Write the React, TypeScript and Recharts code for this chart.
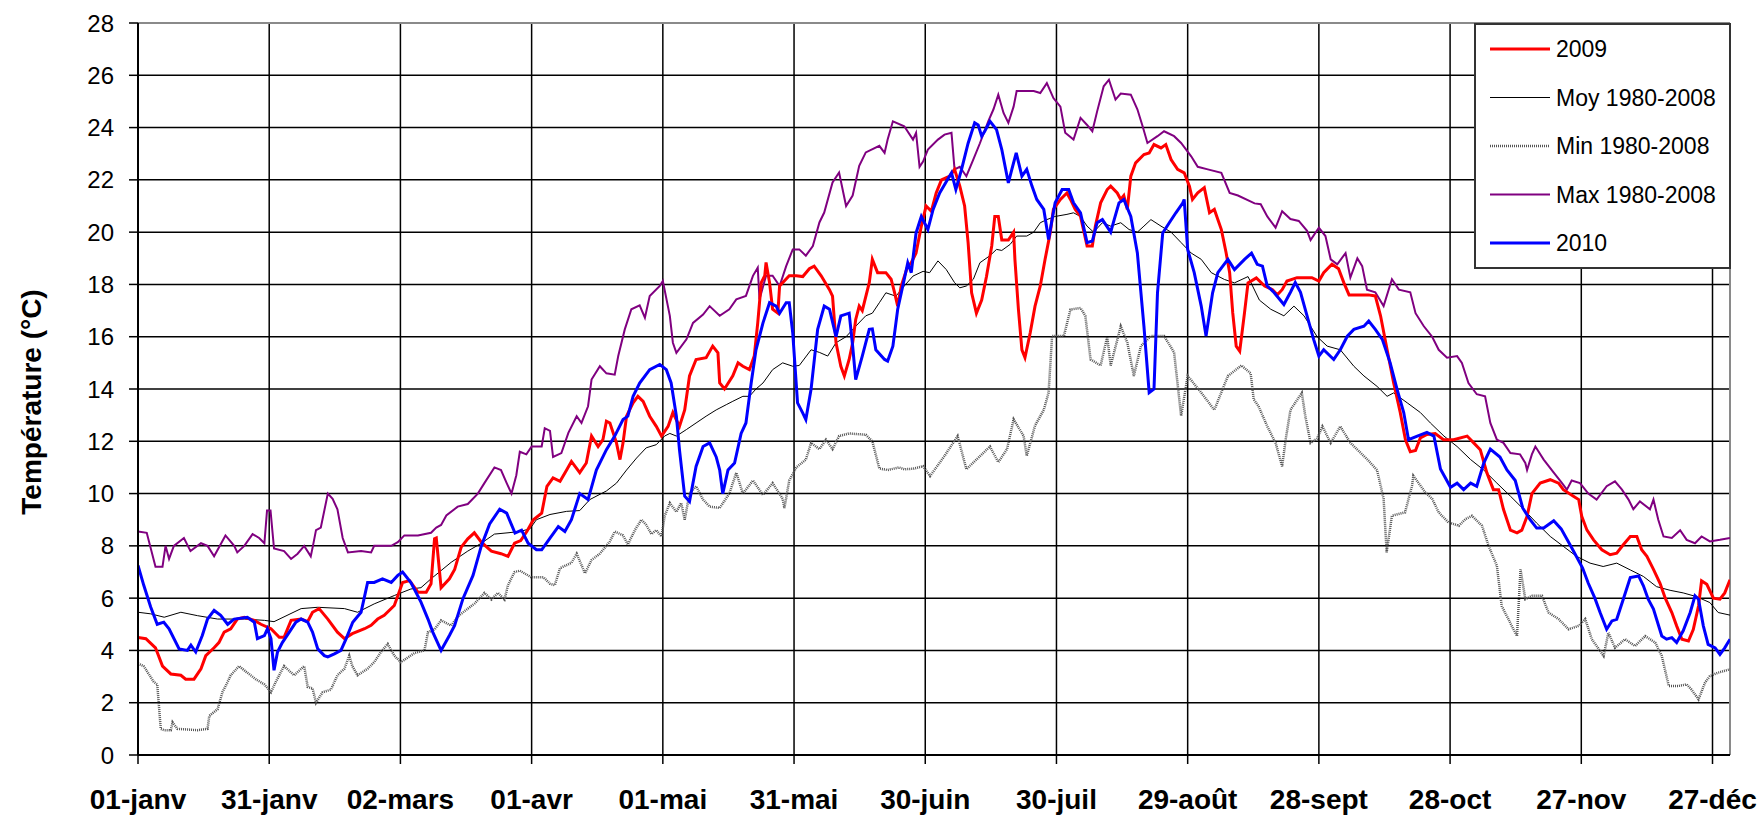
import React from "react";
import { LineChart, Line, XAxis, YAxis, CartesianGrid, ReferenceLine } from "recharts";

const FONT = "'Liberation Sans', Arial, Helvetica, sans-serif";

// day of year (0 = 01-janv) for the axis ticks, and their labels
const dayTicks = [0, 30, 60, 90, 120, 150, 180, 210, 240, 270, 300, 330, 360];
const dayLabels = [
  "01-janv", "31-janv", "02-mars", "01-avr", "01-mai", "31-mai", "30-juin",
  "30-juil", "29-août", "28-sept", "28-oct", "27-nov", "27-déc",
];
const tempTicks = [0, 2, 4, 6, 8, 10, 12, 14, 16, 18, 20, 22, 24, 26, 28];

// [day, °C]
const max19802008 = [
  [0, 8.55], [2, 8.5], [4, 7.2], [5.6, 7.2], [6.3, 8.0], [7.1, 7.5], [8.2, 8.0], [10.5, 8.3], [12, 7.8],
  [14.4, 8.1], [15.9, 8.0], [17.4, 7.6], [20, 8.4], [22, 8.0], [22.7, 7.75], [24.3, 8.0], [26.2, 8.45],
  [27.7, 8.3], [28.9, 8.1], [29.5, 9.35], [30.3, 9.35], [31.1, 7.9], [33.4, 7.8], [35, 7.5], [36.5, 7.7],
  [38, 8.0], [39.5, 7.6], [40, 8.0], [40.7, 8.6], [41.8, 8.7], [43.4, 10.0], [44.5, 9.8], [45.6, 9.4],
  [46.8, 8.3], [48, 7.75], [51, 7.8], [53.3, 7.75], [54, 8.0], [57.9, 8.0], [59.4, 8.14], [60.9, 8.4],
  [64, 8.4], [67, 8.5], [68.2, 8.7], [69.3, 8.8], [70.5, 9.16], [73.1, 9.5], [75.4, 9.6], [77.7, 10.0],
  [79.2, 10.4], [81.5, 11.0], [83, 10.9], [84.3, 10.4], [85.4, 10.0], [86.5, 10.7], [87.3, 11.6],
  [88.8, 11.5], [90, 11.8], [92.3, 11.8], [93, 12.5], [94.2, 12.4], [94.9, 11.4], [96.8, 11.55],
  [98.4, 12.32], [100.3, 12.96], [101.4, 12.7], [102.9, 13.34], [103.7, 14.36], [105.6, 14.87],
  [107.1, 14.6], [109, 14.55], [109.8, 15.26], [111.3, 16.28], [112.8, 17.05], [114.7, 17.2],
  [115.9, 16.73], [117, 17.56], [119.3, 17.94], [120, 18.13], [121.6, 16.8], [122.3, 15.77],
  [123.1, 15.38], [125.4, 15.9], [126.9, 16.53], [129.2, 16.85], [130.7, 17.17], [133, 16.8],
  [135.2, 17.05], [136.8, 17.43], [139, 17.56], [140.6, 18.33], [141.7, 18.64], [142.1, 17.43],
  [143.6, 18.33], [145.1, 18.33], [146.7, 17.94], [148.2, 18.7], [149.7, 19.34], [151.2, 19.34],
  [152.7, 19.1], [154.3, 19.47], [155.8, 20.37], [156.9, 20.75], [158.8, 21.9], [160.3, 22.28],
  [161.9, 21.0], [163.4, 21.4], [164.9, 22.54], [166.4, 23.05], [169.5, 23.3], [170.7, 23.03],
  [171.4, 23.54], [172.6, 24.24], [175.2, 24.05], [177.2, 23.54], [177.9, 23.8], [178.7, 22.5],
  [179.5, 22.7], [180.6, 23.16], [182.9, 23.54], [184.4, 23.73], [186, 23.8], [186.7, 22.4],
  [187.9, 22.5], [189.4, 22.14], [191, 22.78], [192.5, 23.4], [194.4, 24.24], [195.6, 24.7],
  [196.7, 25.26], [197.9, 24.56], [199, 24.18], [200.2, 24.8], [200.9, 25.4], [204.8, 25.4],
  [206.3, 25.32], [207.8, 25.7], [209.3, 25.13], [210.9, 24.8], [212, 23.8], [213.9, 23.54],
  [215.5, 24.37], [217, 24.1], [218.2, 23.86], [219.3, 24.62], [220.8, 25.58], [222, 25.83],
  [223.5, 25.07], [224.7, 25.3], [227, 25.26], [228.5, 24.7], [229.7, 24.05], [230.8, 23.41],
  [233.1, 23.67], [234.6, 23.86], [236.9, 23.67], [238.5, 23.41], [240.8, 22.9], [242.3, 22.5],
  [244.6, 22.4], [247.7, 22.27], [249.6, 21.5], [251.5, 21.4], [255.3, 21.1], [256.7, 21.07],
  [258.2, 20.6], [260.1, 20.17], [261.6, 20.8], [263.5, 20.5], [265.4, 20.43], [267.3, 20.05],
  [268.1, 19.7], [270, 20.17], [271.5, 19.85], [272.7, 18.96], [274.2, 18.77], [276.1, 19.2],
  [277.2, 18.26], [278.8, 19.0], [279.9, 18.7], [281, 17.8], [282.9, 17.7], [284.8, 17.17],
  [286.7, 18.2], [288.3, 17.8], [290.9, 17.7], [292.1, 16.9], [294, 16.4], [295.9, 16.0],
  [297.4, 15.5], [299.3, 15.2], [301.6, 15.26], [302.7, 15.0], [304.2, 14.23], [306.1, 13.8],
  [308, 13.72], [309.2, 12.7], [310.7, 12.06], [312.2, 11.94], [313.8, 11.55], [316, 11.5],
  [317.2, 11.17], [317.6, 10.9], [318.7, 11.5], [319.5, 11.8], [321.4, 11.3], [323.7, 10.8],
  [325.6, 10.4], [326.7, 10.15], [327.8, 10.5], [329.7, 10.4], [331.6, 10.0], [333.5, 9.77],
  [335.8, 10.28], [337.7, 10.47], [339.3, 10.15], [340.8, 9.77], [341.9, 9.4], [343.4, 9.7],
  [345.7, 9.4], [346.5, 9.77], [347.6, 9.0], [348.8, 8.36], [350.7, 8.3], [352.6, 8.6], [354.1, 8.23],
  [356, 8.1], [357.5, 8.36], [359.4, 8.17], [361.7, 8.23], [364, 8.3],
];

const min19802008 = [
  [0, 3.5], [1.3, 3.4], [3.6, 2.8], [4.4, 2.7], [5.2, 1.0], [6, 0.95], [7.5, 0.95], [7.9, 1.25], [9, 1.0],
  [13.6, 0.95], [15.9, 1.0], [16.3, 1.5], [18.2, 1.75], [19.3, 2.4], [20.5, 2.8], [21.2, 3.05],
  [23.1, 3.4], [24.6, 3.2], [26.9, 2.9], [28.9, 2.7], [30.4, 2.4], [31.5, 2.8], [33.4, 3.4],
  [35.7, 3.05], [38, 3.4], [38.8, 2.6], [39.9, 2.55], [40.7, 2.0], [42.2, 2.4], [44.1, 2.5],
  [45.6, 3.05], [47.2, 3.3], [48.3, 3.8], [49, 3.4], [50.2, 3.05], [52.5, 3.3], [54, 3.55],
  [55.6, 3.95], [57.1, 4.25], [58.6, 3.8], [60.1, 3.55], [63.2, 3.9], [65.5, 4.0], [66.3, 4.7],
  [67.8, 4.8], [69.3, 5.15], [71.6, 4.95], [73.1, 5.3], [77, 5.8], [79.2, 6.2], [80.8, 5.95],
  [82.3, 6.2], [83.8, 5.95], [84.6, 6.5], [86.1, 7.0], [87.3, 7.05], [89.9, 6.8], [92.7, 6.8],
  [94.2, 6.55], [95.3, 6.5], [96.5, 7.15], [99.1, 7.35], [100.3, 7.7], [102.2, 6.95], [103.7, 7.46],
  [105.6, 7.7], [107.9, 8.17], [109, 8.55], [110.9, 8.4], [112, 8.05], [113.6, 8.6], [115.1, 9.0],
  [116.2, 8.8], [117.4, 8.45], [118.5, 8.6], [119.7, 8.36], [120.4, 9.13], [121.6, 9.64], [123.1, 9.3],
  [124.2, 9.64], [125, 9.0], [126.1, 10.0], [127.6, 10.28], [129.2, 9.77], [130.7, 9.5], [133, 9.45],
  [135.2, 10.0], [136.8, 10.8], [138.3, 10.0], [140.6, 10.5], [142.9, 9.95], [145.1, 10.4],
  [147.4, 9.8], [147.8, 9.45], [148.9, 10.5], [150.5, 11.0], [152.7, 11.3], [153.9, 11.94],
  [155.8, 11.7], [157.3, 12.06], [158.8, 11.7], [160.3, 12.2], [162.6, 12.3], [166.4, 12.25],
  [167.9, 12.0], [169.5, 10.96], [171.4, 10.9], [174, 11.0], [175.2, 10.93], [177.2, 10.95],
  [179.5, 11.05], [181.1, 10.67], [184.4, 11.44], [187.4, 12.2], [189.4, 10.93], [194.8, 11.8],
  [196.7, 11.2], [198.7, 11.7], [200.2, 12.84], [202.5, 12.2], [203.2, 11.44], [205.1, 12.6],
  [207.1, 13.2], [208.2, 13.86], [209, 16.03], [211.7, 16.03], [213.2, 17.04], [215.5, 17.1],
  [216.6, 16.8], [217.8, 15.13], [220.1, 14.9], [221.6, 16.0], [222.4, 14.9], [224.7, 16.4],
  [226.2, 15.77], [227.7, 14.5], [229.3, 15.64], [231.6, 16.03], [234.6, 16.03], [236.9, 15.4],
  [238.5, 12.97], [240, 14.5], [243.1, 13.86], [246.1, 13.2], [249.2, 14.5], [252.3, 14.9],
  [254.4, 14.6], [255.1, 13.6], [256.2, 13.34], [258.2, 12.57], [260.1, 11.94], [261.6, 11.04],
  [262.4, 12.06], [263.5, 13.2], [266.1, 13.85], [266.9, 12.96], [268.1, 11.94], [269.6, 12.1],
  [270.8, 12.57], [272.7, 11.94], [274.9, 12.57], [277.2, 11.94], [278.8, 11.68], [281.1, 11.3],
  [283.3, 10.9], [284.8, 9.8], [285.5, 7.75], [286.7, 9.15], [289.7, 9.28], [291.3, 10.3],
  [291.6, 10.68], [294.3, 10.05], [295.9, 9.8], [297.4, 9.28], [299.6, 8.9], [302, 8.77],
  [303.5, 9.02], [305, 9.15], [307.3, 8.77], [308.8, 8.0], [310.7, 7.24], [311.8, 5.7], [314.1, 4.94],
  [315.3, 4.55], [316.1, 7.1], [317.2, 5.96], [318.8, 6.09], [321, 6.09], [322.5, 5.45], [324.8, 5.2],
  [327.1, 4.81], [329.4, 4.94], [330.9, 5.2], [332.4, 4.43], [335.1, 3.79], [336.2, 4.68],
  [337.7, 4.1], [340, 4.43], [342.3, 4.17], [344.6, 4.55], [346.9, 4.3], [348.4, 3.79], [350, 2.64],
  [352.2, 2.64], [354.1, 2.7], [355.2, 2.5], [356.8, 2.13], [358.3, 2.77], [359.4, 3.02],
  [361.3, 3.15], [364, 3.28],
];

const moy19802008 = [
  [0, 5.46], [2.9, 5.4], [6, 5.27], [9.8, 5.46], [13.6, 5.33], [18.2, 5.2], [24.3, 5.2], [28.9, 5.15],
  [31.1, 5.1], [37.3, 5.6], [41.1, 5.65], [47.2, 5.6], [50.2, 5.46], [54, 5.78], [58.6, 6.1],
  [62.4, 6.35], [64.7, 6.4], [67, 6.74], [71.6, 7.37], [75.4, 7.8], [78.5, 8.1], [81.5, 8.45],
  [84.6, 8.5], [87.3, 8.55], [89.6, 8.65], [91.1, 9.0], [94.2, 9.2], [98, 9.32], [101, 9.35],
  [103.3, 9.77], [107.1, 10.1], [109.4, 10.4], [111.7, 10.9], [114, 11.36], [116.2, 11.75],
  [118.5, 11.87], [120.4, 12.2], [121.6, 12.3], [123.1, 12.2], [125.4, 12.45], [127.6, 12.7],
  [129.9, 12.96], [132.2, 13.2], [134.5, 13.4], [136, 13.53], [138.3, 13.72], [139.8, 13.72],
  [141.3, 14.0], [142.9, 14.23], [145.1, 14.74], [147.4, 15.0], [149.7, 14.87], [151.2, 14.9],
  [153.9, 15.5], [155.8, 15.4], [157.7, 15.26], [159.6, 15.77], [161.9, 16.0], [164.1, 16.4],
  [166.4, 16.8], [167.9, 16.9], [169.5, 17.3], [171, 17.68], [173.3, 17.55], [175.2, 17.94],
  [177.2, 18.32], [179.5, 18.5], [181, 18.45], [182.9, 18.9], [184.8, 18.57], [186.7, 18.07],
  [187.9, 17.87], [189.4, 17.94], [191, 18.2], [192.5, 18.83], [194.8, 19.1], [196.3, 19.34],
  [197.5, 19.3], [199.4, 19.53], [200.9, 19.85], [203.2, 19.85], [204.8, 20.0], [206.3, 20.36],
  [207.8, 20.48], [209.7, 20.6], [212.4, 20.68], [213.9, 20.74], [215.5, 20.6], [217, 20.23],
  [218.5, 20.0], [220.5, 20.36], [222.4, 20.23], [224.7, 20.36], [226.6, 20.1], [228.5, 20.0],
  [230, 20.23], [231.6, 20.48], [233.9, 20.23], [236.2, 20.0], [238.5, 19.6], [240.8, 19.2],
  [243.1, 18.96], [245.4, 18.45], [248.4, 18.19], [250.7, 18.06], [253.8, 18.3], [256.4, 17.4],
  [259, 17.05], [262, 16.8], [264.3, 17.17], [266.6, 16.8], [269.6, 16.0], [271.9, 15.64],
  [274.9, 15.5], [278, 14.87], [280.3, 14.5], [283.3, 14.1], [285.6, 13.72], [287.1, 13.85],
  [290.2, 13.47], [293.2, 13.1], [295.5, 12.7], [298.6, 12.2], [301.6, 11.8], [304.7, 11.3],
  [307.7, 10.9], [310.7, 10.4], [313.8, 9.9], [316.8, 9.4], [319.8, 8.87], [322.9, 8.36],
  [325.9, 7.98], [328.9, 7.6], [332, 7.34], [335, 7.21], [338.1, 7.34], [341.2, 7.08], [344.2, 6.83],
  [347.2, 6.44], [350.3, 6.3], [353.3, 6.2], [356.3, 6.06], [359.4, 5.83], [361.3, 5.45], [364, 5.35],
];

const serie2009 = [
  [0, 4.5], [1.8, 4.45], [4, 4.1], [5.6, 3.4], [7.5, 3.1], [9.8, 3.05], [10.9, 2.9], [12.8, 2.9],
  [14.4, 3.3], [15.5, 3.8], [17.4, 4.1], [18.5, 4.3], [19.7, 4.7], [21.2, 4.83], [22.7, 5.2],
  [24.3, 5.27], [26.6, 5.15], [28.1, 5.0], [30.4, 4.83], [32.3, 4.5], [33.4, 4.5], [35, 5.15],
  [37.3, 5.2], [38.8, 5.1], [39.9, 5.46], [41.4, 5.6], [43.4, 5.2], [45.6, 4.7], [47.2, 4.45],
  [49, 4.64], [51.8, 4.83], [53.3, 4.96], [54.8, 5.2], [56.3, 5.34], [58.6, 5.72], [60.5, 6.6],
  [62.1, 6.67], [64, 6.23], [65.9, 6.23], [67, 6.55], [67.8, 8.27], [68.2, 8.3], [69.3, 6.4],
  [71.2, 6.74], [72.4, 7.1], [73.9, 7.95], [75.4, 8.27], [76.9, 8.5], [78.5, 8.14], [80.8, 7.8],
  [83, 7.7], [84.6, 7.6], [86.1, 8.1], [87.5, 8.2], [88.9, 8.55], [90.4, 9.0], [92.3, 9.25],
  [93.5, 10.28], [94.9, 10.6], [96.5, 10.47], [98, 10.9], [99.1, 11.23], [101, 10.8], [102.5, 11.17],
  [103.7, 12.2], [105.2, 11.8], [106.3, 12.06], [107.1, 12.77], [107.9, 12.7], [109.4, 11.94],
  [110.2, 11.3], [110.9, 11.94], [111.7, 12.96], [113.2, 13.47], [114.3, 13.72], [115.5, 13.53],
  [117, 12.96], [118.5, 12.57], [119.7, 12.2], [121.2, 12.57], [122.3, 13.1], [123.8, 12.57],
  [125, 13.2], [126.1, 14.5], [127.6, 15.13], [129.9, 15.2], [131.4, 15.64], [132.6, 15.38],
  [133, 14.23], [134.1, 14.0], [136, 14.5], [137.2, 15.0], [138.3, 14.87], [139.8, 14.74],
  [140.9, 15.26], [141.7, 16.53], [142.5, 18.07], [143.3, 18.33], [143.6, 18.84], [144.4, 18.07],
  [145.1, 17.05], [146.3, 16.9], [146.7, 17.94], [148.9, 18.33], [150.5, 18.33], [152, 18.3],
  [153.5, 18.6], [154.6, 18.7], [156.2, 18.33], [158.1, 17.8], [158.8, 17.55], [159.6, 15.77],
  [160.7, 14.87], [161.5, 14.5], [162.6, 15.13], [163.4, 15.77], [164.1, 16.66], [164.9, 17.17],
  [165.6, 17.0], [167.2, 18.07], [167.9, 18.96], [169.1, 18.45], [171, 18.45], [172.2, 18.2],
  [173, 17.68], [173.7, 17.17], [174.5, 17.94], [176, 18.7], [176.8, 18.83], [177.9, 19.2],
  [179.1, 20.23], [180.2, 21.0], [181.4, 20.8], [182.5, 21.5], [183.7, 22.0], [185.6, 22.14],
  [186.7, 22.4], [187.9, 21.76], [189, 21.0], [189.8, 19.6], [190.6, 17.68], [191.7, 16.9],
  [192.9, 17.4], [194, 18.3], [195.2, 19.47], [195.9, 20.6], [196.7, 20.6], [197.5, 19.7],
  [199, 19.7], [200.2, 20.0], [200.5, 18.96], [201.3, 17.05], [202.1, 15.5], [202.8, 15.2],
  [204, 16.15], [205.1, 17.17], [206.3, 17.94], [207.4, 18.96], [208.6, 20.0], [209.3, 20.87],
  [210.9, 21.25], [212.4, 21.5], [213.2, 21.25], [214.3, 20.87], [215.5, 20.6], [217, 19.47],
  [218.2, 19.47], [218.9, 20.23], [220.1, 21.12], [221.6, 21.63], [222.4, 21.76], [223.9, 21.5],
  [224.7, 21.25], [225.4, 21.4], [226.2, 20.87], [227, 22.14], [228.1, 22.65], [230, 22.97],
  [231.2, 23.03], [232.3, 23.35], [233.9, 23.22], [235, 23.35], [236.2, 22.78], [237.7, 22.4],
  [239.2, 22.27], [240.4, 21.76], [241.1, 21.25], [242.3, 21.5], [243.8, 21.7], [245, 20.74],
  [246.1, 20.87], [247.7, 20.1], [248.8, 19.2], [249.6, 18.45], [250.3, 16.92], [251.1, 15.64],
  [251.9, 15.45], [253, 16.92], [253.8, 18.06], [255.7, 18.25], [257.6, 17.94], [259.4, 17.8],
  [260.5, 17.6], [261.6, 17.8], [262.7, 18.13], [265, 18.26], [268.4, 18.26], [270, 18.13],
  [271.1, 18.45], [273, 18.77], [274.5, 18.6], [275.7, 18.07], [276.9, 17.6], [279.4, 17.6],
  [281.3, 17.6], [282.9, 17.56], [284.1, 16.8], [285.6, 15.5], [287.1, 14.23], [288.6, 13.1],
  [289.8, 12.06], [290.9, 11.6], [292.1, 11.65], [293.2, 12.13], [294.7, 12.26], [296.6, 12.3],
  [298.5, 12.06], [300.8, 12.06], [303.9, 12.2], [305.4, 11.94], [306.9, 11.68], [308.4, 10.8],
  [309.9, 10.15], [311.1, 10.15], [312.2, 9.4], [313.8, 8.6], [315.3, 8.5], [316.4, 8.6],
  [317.6, 9.13], [318.7, 10.0], [320.6, 10.4], [322.9, 10.53], [324.8, 10.4], [325.9, 10.15],
  [328.2, 9.9], [329.4, 9.77], [330.1, 9.13], [331.3, 8.6], [332.8, 8.23], [334.7, 7.85],
  [336.6, 7.66], [338.1, 7.72], [339.6, 8.04], [341.2, 8.36], [342.7, 8.36], [343.8, 7.85],
  [345, 7.6], [346.5, 7.1], [348, 6.57], [349.2, 6.0], [350.7, 5.45], [351.8, 4.94], [353, 4.43],
  [354.5, 4.36], [355.6, 4.8], [356.8, 5.7], [357.5, 6.66], [358.7, 6.53], [360.2, 6.0], [361.7, 5.96],
  [362.8, 6.2], [364, 6.7],
];

const serie2010 = [
  [0, 7.25], [1.3, 6.5], [2.9, 5.66], [4.4, 5.0], [5.9, 5.08], [7.1, 4.83], [9.4, 4.06], [11.3, 4.0],
  [12.1, 4.2], [13.2, 3.94], [14.7, 4.57], [15.9, 5.2], [17.4, 5.53], [18.9, 5.34], [20.5, 5.0],
  [22, 5.2], [25, 5.27], [26.6, 5.08], [27.3, 4.45], [28.9, 4.57], [29.6, 4.83], [30.4, 4.45],
  [31.1, 3.24], [31.9, 3.94], [33, 4.3], [34.6, 4.7], [36.1, 5.08], [37.3, 5.2], [38.8, 5.08],
  [39.9, 4.7], [41.1, 4.06], [42.6, 3.8], [43.4, 3.75], [44.9, 3.87], [46.4, 4.0], [47.6, 4.45],
  [49.1, 5.08], [51, 5.46], [52.5, 6.6], [54, 6.6], [55.9, 6.74], [57.9, 6.6], [59.4, 6.87],
  [60.5, 7.0], [62.4, 6.6], [64.7, 5.85], [66.3, 5.2], [67.4, 4.7], [69.3, 4.0], [71.2, 4.57],
  [72.4, 4.96], [74.3, 5.98], [76.6, 6.87], [78.5, 8.0], [80.4, 8.84], [82.7, 9.4], [84.3, 9.25],
  [86.2, 8.49], [87.7, 8.6], [89.2, 8.1], [91.1, 7.85], [92.3, 7.85], [94.2, 8.3], [96.1, 8.74],
  [97.6, 8.55], [99.1, 9.0], [101, 10.0], [102.9, 9.77], [104.8, 10.9], [107.1, 11.68], [109, 12.2],
  [110.9, 12.83], [112, 12.96], [113.2, 13.72], [114.7, 14.23], [117, 14.74], [119.3, 14.94],
  [120.8, 14.74], [121.9, 14.23], [123.1, 12.96], [123.8, 11.68], [125, 9.9], [126.1, 9.7],
  [127.6, 11.04], [129.2, 11.8], [130.7, 11.94], [132.2, 11.4], [133, 10.9], [133.7, 10.0],
  [134.9, 10.9], [136.4, 11.17], [137.9, 12.3], [139, 12.7], [140.2, 14.23], [141.3, 15.5],
  [142.9, 16.53], [144.4, 17.3], [145.9, 17.17], [146.7, 16.9], [148.2, 17.3], [148.9, 17.3],
  [149.7, 16.15], [150.8, 13.47], [152, 13.08], [152.7, 12.83], [153.9, 14.0], [155.4, 16.28],
  [156.9, 17.17], [158.1, 17.05], [159.6, 16.0], [160.7, 16.8], [162.6, 16.9], [163.4, 15.64],
  [164.1, 14.36], [165.6, 15.26], [167.2, 16.28], [167.9, 16.3], [168.7, 15.5], [170.7, 15.13],
  [171.4, 15.07], [172.6, 15.64], [173.7, 17.05], [175.2, 18.2], [176, 18.83], [176.8, 18.45],
  [177.9, 19.97], [179.1, 20.6], [180.6, 20.1], [181.8, 20.87], [183.3, 21.5], [186, 22.27],
  [187, 21.63], [188.3, 22.4], [189.8, 23.4], [191.3, 24.18], [192.1, 24.1], [192.9, 23.67],
  [193.6, 23.86], [194.8, 24.24], [196.3, 23.92], [197.5, 23.16], [199, 21.88], [199.8, 22.4],
  [200.8, 23.03], [202.1, 22.14], [203.2, 22.4], [204.4, 21.76], [205.5, 21.25], [207.1, 20.87],
  [208.2, 19.72], [209, 20.48], [209.7, 21.12], [211.3, 21.63], [212.8, 21.63], [213.9, 21.12],
  [215.5, 20.74], [217, 19.6], [218.2, 19.66], [219.3, 20.36], [220.5, 20.48], [222.4, 20.0],
  [223.2, 20.48], [224.3, 21.12], [225.4, 21.25], [227, 20.6], [228.5, 19.2], [230, 16.4],
  [231.2, 13.86], [232.3, 14.0], [233.1, 17.68], [234.3, 19.97], [235.8, 20.36], [237.3, 20.74],
  [238.9, 21.12], [239.2, 21.25], [240, 19.34], [241.5, 18.45], [243.1, 17.17], [244.2, 16.03],
  [245.7, 17.68], [246.9, 18.45], [249.2, 18.96], [250.7, 18.57], [253, 18.96], [254.6, 19.2],
  [255.9, 18.77], [257.1, 18.7], [258.2, 17.94], [259.7, 17.7], [262, 17.23], [263.5, 17.7],
  [264.6, 18.07], [265.8, 17.7], [267.3, 16.8], [268.8, 15.9], [270, 15.26], [271.1, 15.5],
  [273.4, 15.13], [274.9, 15.5], [276.5, 16.02], [278, 16.28], [280.3, 16.4], [281.4, 16.6],
  [282.9, 16.28], [284.5, 15.9], [286.3, 15.0], [287.9, 13.98], [289.4, 13.1], [290.5, 12.06],
  [292.5, 12.2], [294.7, 12.34], [296.3, 12.2], [297.8, 10.94], [300.1, 10.24], [301.6, 10.4],
  [303.1, 10.15], [304.7, 10.4], [306.1, 10.28], [307.7, 11.17], [309.2, 11.7], [311.4, 11.4],
  [313, 10.9], [314.9, 10.5], [316.6, 9.45], [318.3, 9.0], [319.8, 8.68], [321.4, 8.68],
  [323.7, 8.96], [325.4, 8.65], [327.9, 7.9], [330.3, 7.15], [331.6, 6.57], [333.1, 6.0],
  [334.3, 5.45], [335.8, 4.81], [337, 5.13], [338.1, 5.19], [339.6, 5.96], [341.2, 6.79],
  [343.1, 6.85], [344.2, 6.47], [345.3, 5.96], [346.5, 5.58], [348.4, 4.55], [349.5, 4.43],
  [350.7, 4.49], [351.8, 4.3], [353.3, 4.75], [354.9, 5.45], [356, 6.09], [356.8, 5.96],
  [357.9, 4.94], [359, 4.23], [360.6, 4.1], [361.7, 3.85], [362.8, 4.1], [364, 4.43],
];

const toPoints = (rows: number[][]) => rows.map(([d, v]) => ({ d, v }));

const legendItems = [
  { name: "2009", color: "#ff0000", width: 3 },
  { name: "Moy 1980-2008", color: "#000000", width: 1 },
  { name: "Min 1980-2008", color: "#555555", width: 2.5, dash: "1 1" },
  { name: "Max 1980-2008", color: "#800080", width: 2 },
  { name: "2010", color: "#0000ff", width: 3 },
];

function YTitle() {
  return (
    <text
      transform="translate(31, 402) rotate(-90)"
      textAnchor="middle"
      dominantBaseline="central"
      fontSize={28}
      fontWeight="bold"
      fontFamily={FONT}
      fill="#000"
    >
      Température (°C)
    </text>
  );
}

function LegendBox() {
  return (
    <div
      style={{
        position: "absolute",
        left: 1474,
        top: 23,
        width: 257,
        height: 246,
        boxSizing: "border-box",
        border: "2px solid #333",
        background: "#fff",
      }}
    >
      <svg width={253} height={242}>
        {legendItems.map((it, i) => {
          const y = 24 + i * 48.5;
          return (
            <g key={it.name}>
              <line x1={14} x2={74} y1={y} y2={y} stroke={it.color} strokeWidth={it.width} strokeDasharray={it.dash} />
              <text x={80} y={y} dominantBaseline="central" fontSize={23} fontFamily={FONT} fill="#000">
                {it.name}
              </text>
            </g>
          );
        })}
      </svg>
    </div>
  );
}

export default function App() {
  return (
    <div style={{ position: "absolute", left: 0, top: 0, width: 1764, height: 816, background: "#fff" }}>
      <LineChart width={1764} height={816} margin={{ top: 23, right: 34, left: 0, bottom: 0 }}>
        <CartesianGrid stroke="#000" strokeWidth={1.5} />
        <XAxis
          dataKey="d"
          type="number"
          domain={[0, 364]}
          ticks={dayTicks}
          interval={0}
          allowDataOverflow
          height={61}
          tickSize={9}
          tickMargin={25}
          tickFormatter={(d: number) => dayLabels[dayTicks.indexOf(d)]}
          axisLine={{ stroke: "#000", strokeWidth: 2 }}
          tickLine={{ stroke: "#000", strokeWidth: 1.5 }}
          tick={{ fontSize: 28, fontWeight: "bold", fill: "#000", fontFamily: FONT }}
        />
        <YAxis
          type="number"
          domain={[0, 28]}
          ticks={tempTicks}
          interval={0}
          width={138}
          tickSize={9}
          tickMargin={15}
          axisLine={{ stroke: "#000", strokeWidth: 2 }}
          tickLine={{ stroke: "#000", strokeWidth: 1.5 }}
          tick={{ fontSize: 24, fill: "#000", fontFamily: FONT }}
          label={<YTitle />}
        />
        <ReferenceLine y={28} stroke="#8a8a8a" strokeWidth={2} />
        <ReferenceLine x={364} stroke="#8a8a8a" strokeWidth={2} />
        <Line data={toPoints(min19802008)} dataKey="v" name="Min 1980-2008" type="linear" stroke="#555555" strokeWidth={2.5} strokeDasharray="1 1" dot={false} isAnimationActive={false} />
        <Line data={toPoints(max19802008)} dataKey="v" name="Max 1980-2008" type="linear" stroke="#800080" strokeWidth={2} dot={false} isAnimationActive={false} />
        <Line data={toPoints(moy19802008)} dataKey="v" name="Moy 1980-2008" type="linear" stroke="#000" strokeWidth={1} dot={false} isAnimationActive={false} />
        <Line data={toPoints(serie2009)} dataKey="v" name="2009" type="linear" stroke="#ff0000" strokeWidth={3} dot={false} isAnimationActive={false} />
        <Line data={toPoints(serie2010)} dataKey="v" name="2010" type="linear" stroke="#0000ff" strokeWidth={3} dot={false} isAnimationActive={false} />
      </LineChart>
      <LegendBox />
    </div>
  );
}
